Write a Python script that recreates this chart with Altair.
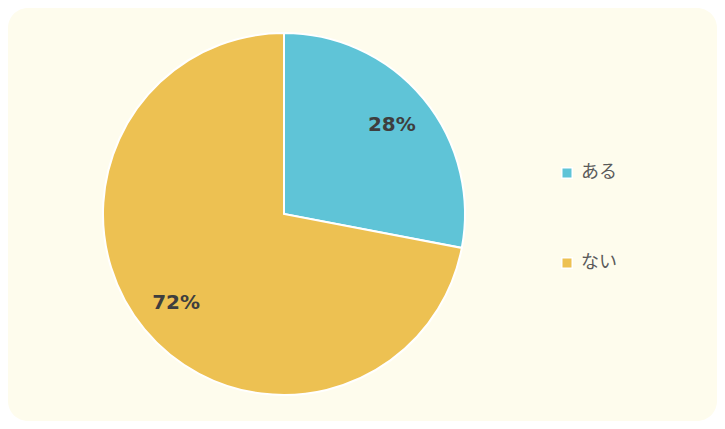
import altair as alt
import pandas as pd

categories = ["ある", "ない"]
values = [28, 72]
labels = ["28%", "72%"]
colors = ["#5FC4D7", "#EDC152"]

df = pd.DataFrame({"cat": categories, "val": values, "label": labels, "order": [0, 1]})

cx, cy = 276, 206

base = alt.Chart(df).encode(
    theta=alt.Theta("val:Q", stack=True),
    order=alt.Order("order:Q"),
)

pie = base.mark_arc(radius=181, stroke="white", strokeWidth=2).encode(
    x=alt.value(cx),
    y=alt.value(cy),
    color=alt.Color(
        "cat:N",
        scale=alt.Scale(domain=categories, range=colors),
        legend=alt.Legend(
            title=None,
            orient="none",
            legendX=550,
            legendY=156,
            symbolType="square",
            symbolSize=110,
            symbolStrokeColor="white",
            symbolStrokeWidth=1.5,
            symbolOpacity=1,
            labelFont="Noto Sans CJK JP",
            labelFontSize=18,
            labelColor="#5A5A5A",
            labelOffset=5,
            rowPadding=72,
        ),
    ),
)

text = base.mark_text(
    radius=140,
    font="DejaVu Sans",
    fontSize=20,
    fontWeight="bold",
    color="#3E3E3E",
).encode(
    x=alt.value(cx),
    y=alt.value(cy),
    text="label:N",
)

chart = (
    alt.layer(pie, text)
    .properties(
        width=709,
        height=413,
        padding=0,
        autosize=alt.AutoSizeParams(type="fit", contains="padding"),
        background="white",
    )
    .configure_view(fill="#FEFCED", stroke=None, cornerRadius=20)
)

chart.save("out.html", embed_options={"renderer": "svg", "actions": False})
